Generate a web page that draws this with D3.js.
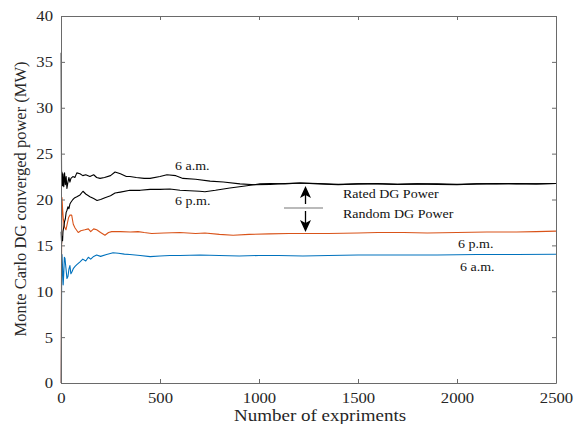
<!DOCTYPE html>
<html>
<head>
<meta charset="utf-8">
<script src="https://cdn.jsdelivr.net/npm/d3@7"></script>
<style>
  body { margin: 0; background: #fff; }
  svg { display: block; }
</style>
</head>
<body>
<svg width="574" height="424"></svg>
<script>
// ---- data ----
var xTicks = [0, 500, 1000, 1500, 2000, 2500];
var yTicks = [0, 5, 10, 15, 20, 25, 30, 35, 40];

// 6 a.m. rated DG power (black, upper)
var amRatedX = [1, 2, 3, 5, 8, 10, 14, 18, 22, 26, 30, 35, 40, 45, 50, 60, 70, 80, 96, 110, 125, 146, 165, 180, 197, 220, 250, 273, 300, 330, 348, 380, 420, 450, 500, 535, 580, 616, 680, 753, 820, 904, 980, 1056, 1130, 1207, 1300, 1400, 1500, 1600, 1700, 1800, 1900, 2000, 2100, 2200, 2300, 2400, 2500];
var amRatedY = [36, 26.7, 22, 23, 21.5, 22.8, 21.4, 22.9, 21.6, 22.5, 21.2, 21.9, 22.4, 21.9, 22.3, 22.5, 22.4, 22.9, 22.8, 22.6, 22.7, 22.5, 22.7, 22.4, 22.3, 22.4, 22.6, 23.0, 22.8, 22.5, 22.5, 22.4, 22.3, 22.3, 22.5, 22.7, 22.6, 22.3, 22.2, 22.0, 21.9, 21.7, 21.6, 21.65, 21.75, 21.8, 21.7, 21.6, 21.7, 21.75, 21.65, 21.7, 21.65, 21.6, 21.7, 21.75, 21.7, 21.7, 21.75];

// 6 p.m. rated DG power (black, lower)
var pmRatedX = [1, 3, 5, 8, 10, 14, 18, 22, 26, 30, 35, 40, 45, 50, 60, 70, 80, 96, 111, 125, 146, 165, 182, 200, 222, 250, 273, 300, 348, 400, 450, 500, 550, 601, 650, 700, 727, 780, 853, 920, 1005, 1056, 1130, 1207, 1300, 1400, 1500, 1600, 1700, 1800, 1900, 2000, 2100, 2200, 2300, 2400, 2500];
var pmRatedY = [16.5, 15.2, 16.0, 15.5, 16.5, 17.0, 17.6, 17.9, 18.6, 18.8, 19.2, 19.0, 19.5, 19.7, 20.0, 20.2, 20.3, 20.5, 20.9, 20.6, 20.3, 20.1, 19.9, 20.0, 20.2, 20.4, 20.7, 20.8, 21.0, 21.0, 21.1, 21.1, 21.15, 21.0, 20.95, 20.9, 20.85, 21.0, 21.25, 21.45, 21.7, 21.75, 21.7, 21.8, 21.75, 21.65, 21.7, 21.7, 21.65, 21.7, 21.7, 21.65, 21.7, 21.7, 21.75, 21.7, 21.75];

// 6 p.m. random DG power (orange)
var pmRandX = [1, 3, 5, 8, 12, 18, 25, 30, 38, 45, 54, 62, 71, 87, 100, 120, 138, 150, 165, 180, 200, 222, 240, 256, 300, 350, 389, 420, 458, 520, 600, 680, 727, 800, 869, 950, 1050, 1150, 1222, 1350, 1500, 1600, 1732, 1850, 2000, 2150, 2300, 2400, 2500];
var pmRandY = [0, 15, 20.2, 19.0, 17.8, 17.0, 16.7, 17.2, 18.0, 18.3, 18.3, 17.3, 16.9, 16.4, 16.6, 16.7, 16.8, 16.5, 16.8, 16.7, 16.4, 16.1, 16.4, 16.5, 16.5, 16.45, 16.5, 16.4, 16.3, 16.35, 16.4, 16.3, 16.35, 16.2, 16.1, 16.2, 16.25, 16.3, 16.3, 16.3, 16.35, 16.4, 16.4, 16.35, 16.4, 16.45, 16.45, 16.5, 16.55];

// 6 a.m. random DG power (blue)
var amRandX = [1, 3, 5, 8, 11, 14, 17, 20, 25, 30, 35, 40, 45, 50, 55, 63, 71, 80, 96, 110, 125, 138, 150, 165, 180, 200, 230, 263, 290, 320, 348, 400, 450, 500, 550, 600, 702, 800, 900, 1000, 1100, 1222, 1350, 1500, 1732, 1900, 2100, 2300, 2500];
var amRandY = [0, 10.5, 14.0, 12.5, 10.7, 12.0, 13.7, 13.6, 12.5, 11.4, 11.6, 12.4, 12.8, 11.9, 12.1, 12.5, 12.7, 12.9, 13.2, 13.5, 13.3, 13.7, 13.5, 13.8, 13.95, 13.8, 14.0, 14.2, 14.15, 14.05, 14.0, 13.9, 13.77, 13.85, 13.9, 13.9, 13.95, 13.9, 13.85, 13.9, 13.9, 13.85, 13.9, 13.95, 13.95, 13.95, 14.0, 14.0, 14.03];

var serif = "'Liberation Serif', 'Times New Roman', serif";

var margin = {top: 16, left: 61},
    w = 495,
    h = 367;

var svg = d3.select('svg');
var g = svg.append('g').attr('transform', 'translate(' + margin.left + ',' + margin.top + ')');

var xScale = d3.scaleLinear().domain([0, 2500]).range([0, w]);
var yScale = d3.scaleLinear().domain([0, 40]).range([h, 0]);

var axisCol = '#6a6a6a';

// series
function drawLine(xs, ys, col, lw) {
    var pts = xs.map(function(d, i) { return [d, ys[i]]; });
    var line = d3.line()
        .x(function(d) { return xScale(d[0]); })
        .y(function(d) { return yScale(d[1]); });
    g.append('path')
        .datum(pts)
        .attr('d', line)
        .attr('fill', 'none')
        .attr('stroke', col)
        .attr('stroke-width', lw)
        .attr('stroke-linejoin', 'round');
}
drawLine(amRandX, amRandY, '#0072BD', 1.1);
drawLine(pmRandX, pmRandY, '#D95319', 1.1);
drawLine(pmRatedX, pmRatedY, '#000', 1.1);
drawLine(amRatedX, amRatedY, '#000', 1.1);

// axes (ticks inside, MATLAB box)
var fmt = d3.format('d');
var xAxis = d3.axisBottom(xScale).tickValues(xTicks).tickFormat(fmt).tickSizeInner(-4).tickSizeOuter(0).tickPadding(8);
var yAxis = d3.axisLeft(yScale).tickValues(yTicks).tickFormat(fmt).tickSizeInner(-4).tickSizeOuter(0).tickPadding(8);

var gx = g.append('g').attr('transform', 'translate(0,' + h + ')').call(xAxis);
var gy = g.append('g').call(yAxis);
g.append('g').call(d3.axisTop(xScale).tickValues(xTicks).tickSizeInner(-4).tickSizeOuter(0).tickFormat(''));
g.append('g').attr('transform', 'translate(' + w + ',0)')
    .call(d3.axisRight(yScale).tickValues(yTicks).tickSizeInner(-4).tickSizeOuter(0).tickFormat(''));

g.selectAll('.domain').attr('stroke', axisCol);
g.selectAll('.tick line').attr('stroke', axisCol);
g.selectAll('.tick text')
    .attr('font-family', serif).attr('font-size', 14.5).attr('fill', '#262626');
gx.selectAll('.tick text').attr('y', 0).attr('dy', 0)
    .attr('transform', 'translate(0,20) scale(1.15,1)');
gy.selectAll('.tick text').attr('x', 0).attr('dy', '0.34em')
    .attr('transform', 'translate(-8,0) scale(1.15,1)');

// axis titles
svg.append('text')
    .attr('font-family', serif).attr('fill', '#262626')
    .attr('text-anchor', 'middle')
    .attr('font-size', 17)
    .attr('transform', 'translate(320,421) scale(1.12,1)')
    .text('Number of expriments');
svg.append('text')
    .attr('font-family', serif).attr('fill', '#262626')
    .attr('text-anchor', 'middle')
    .attr('font-size', 16.5)
    .attr('transform', 'translate(26,199) rotate(-90)')
    .text('Monte Carlo DG converged power (MW)');

// annotations
function ann(txt, x, y) {
    svg.append('text')
        .attr('font-family', serif).attr('font-size', 12.5).attr('fill', '#111')
        .attr('transform', 'translate(' + x + ',' + y + ') scale(1.12,1)')
        .text(txt);
}
ann('6 a.m.', 175, 170);
ann('6 p.m.', 175, 205);
ann('Rated DG Power', 343, 198);
ann('Random DG Power', 343, 218);
ann('6 p.m.', 458, 248);
ann('6 a.m.', 460, 271);

// separator line and arrows
svg.append('line')
    .attr('x1', 284).attr('x2', 323).attr('y1', 208).attr('y2', 208)
    .attr('stroke', '#777').attr('stroke-width', 1.2);
svg.append('line')
    .attr('x1', 305.5).attr('x2', 305.5).attr('y1', 204).attr('y2', 192)
    .attr('stroke', '#000').attr('stroke-width', 1.3);
svg.append('path')
    .attr('d', 'M305.5,186 L300,198 L305.5,195 L311,198 Z')
    .attr('fill', '#000');
svg.append('line')
    .attr('x1', 305.5).attr('x2', 305.5).attr('y1', 211).attr('y2', 225)
    .attr('stroke', '#000').attr('stroke-width', 1.3);
svg.append('path')
    .attr('d', 'M305.5,232 L300,220 L305.5,223 L311,220 Z')
    .attr('fill', '#000');
</script>
</body>
</html>
